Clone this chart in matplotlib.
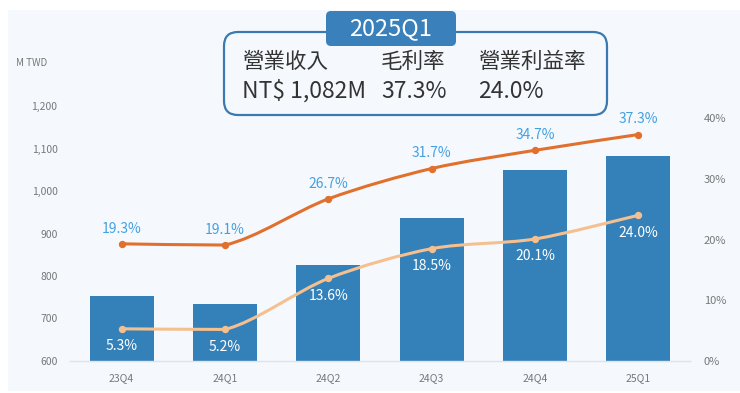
import matplotlib
matplotlib.use("Agg")
import matplotlib.pyplot as plt
from matplotlib.patches import FancyBboxPatch, Rectangle, PathPatch
from matplotlib.path import Path
from matplotlib.transforms import IdentityTransform
import numpy as np

plt.rcParams['font.family'] = ['Noto Sans CJK TC', 'DejaVu Sans']

# ---- data ----
quarters = ["23Q4", "24Q1", "24Q2", "24Q3", "24Q4", "25Q1"]
revenue = [752, 735, 827, 937, 1050, 1082]          # M TWD
gross_margin = [19.3, 19.1, 26.7, 31.7, 34.7, 37.3]  # %
op_margin = [5.3, 5.2, 13.6, 18.5, 20.1, 24.0]       # %
left_ticks = [600, 700, 800, 900, 1000, 1100, 1200]
right_ticks = [0, 10, 20, 30, 40]
headline_title = "2025Q1"
headline_labels = ["營業收入", "毛利率", "營業利益率"]
headline_values = ["NT$ 1,082M", "37.3%", "24.0%"]

W, H, DPI = 740, 393, 100
fig = plt.figure(figsize=(W / DPI, H / DPI), dpi=DPI)
fig.patch.set_facecolor("white")

BG = "#f5f9fd"
BAR = "#3481ba"
GM = "#e0702c"
OM = "#f5c08f"
LBL = "#45a0e0"
TICK = "#777777"

def px(x, y_top):
    return x, H - y_top

ident = IdentityTransform()
# background panel
fig.patches.append(Rectangle(px(8, 391), 740 - 8, 391 - 10, transform=ident,
                             facecolor=BG, edgecolor="none", zorder=-1))

ax = fig.add_axes([70 / W, 1 - 361 / H, 620 / W, 255 / H])
ax.set_zorder(1)
ax.set_facecolor("none")
x = np.arange(len(quarters))
ax.bar(x, revenue, width=0.62, color=BAR, zorder=2)
ax.set_xlim(-0.5, len(quarters) - 0.5)
ax.set_ylim(600, 1200)
ax.set_yticks(left_ticks)
ax.set_yticklabels([f"{v:,}" for v in left_ticks])
ax.set_xticks(x)
ax.set_xticklabels(quarters)
for s in ["top", "right", "left"]:
    ax.spines[s].set_visible(False)
ax.spines["bottom"].set_color("#dde3ea")
ax.spines["bottom"].set_linewidth(1.0)
ax.tick_params(axis="both", length=0, labelsize=7.5, colors=TICK)
ax.tick_params(axis="y", pad=9)
ax.tick_params(axis="x", pad=9)

ax2 = ax.twinx()
ax2.set_zorder(2)
ax2.set_facecolor("none")
ax2.set_ylim(0, 42)
ax2.set_yticks(right_ticks)
ax2.set_yticklabels([f"{v}%" for v in right_ticks])
for s in ["top", "right", "left", "bottom"]:
    ax2.spines[s].set_visible(False)
ax2.tick_params(axis="y", length=0, labelsize=8, colors=TICK, pad=10)

def smooth_path(xs, ys, s=0.3):
    xs = np.asarray(xs, float); ys = np.asarray(ys, float)
    n = len(xs)
    verts = [(xs[0], ys[0])]
    codes = [Path.MOVETO]
    for i in range(n - 1):
        p0 = np.array([xs[i], ys[i]])
        p1 = np.array([xs[i + 1], ys[i + 1]])
        prev = np.array([xs[i - 1], ys[i - 1]]) if i > 0 else p0
        nxt = np.array([xs[i + 2], ys[i + 2]]) if i + 2 < n else p1
        c1 = p0 + (p1 - prev) * s * 0.5
        c2 = p1 - (nxt - p0) * s * 0.5
        lo, hi = min(p0[1], p1[1]), max(p0[1], p1[1])
        c1[1] = np.clip(c1[1], lo, hi)
        c2[1] = np.clip(c2[1], lo, hi)
        verts += [tuple(c1), tuple(c2), tuple(p1)]
        codes += [Path.CURVE4] * 3
    return Path(verts, codes)

for vals, col in [(gross_margin, GM), (op_margin, OM)]:
    ax2.add_patch(PathPatch(smooth_path(x, vals), facecolor="none", edgecolor=col,
                            linewidth=2.2, zorder=3, capstyle="round"))
    ax2.scatter(x, vals, s=28, color=col, zorder=4, linewidths=0)

for xi, v in zip(x, gross_margin):
    ax2.annotate(f"{v}%", (xi, v), xytext=(0, 11), textcoords="offset points",
                 ha="center", va="center", fontsize=10, color=LBL, zorder=5)
for xi, v in zip(x, op_margin):
    ax2.annotate(f"{v}%", (xi, v), xytext=(0, -12.5), textcoords="offset points",
                 ha="center", va="center", fontsize=10, color="white", zorder=5)

fig.text(16 / W, 1 - 63 / H, "M TWD", fontsize=7, color=TICK, ha="left", va="center")

# headline box
fig.patches.append(FancyBboxPatch(px(224, 115), 607 - 224, 115 - 32, transform=ident,
                                  boxstyle="round,pad=0,rounding_size=14",
                                  facecolor=BG, edgecolor="#3a7ab0", linewidth=1.6, zorder=5))
fig.patches.append(FancyBboxPatch(px(326, 46), 456 - 326, 46 - 11, transform=ident,
                                  boxstyle="round,pad=0,rounding_size=5",
                                  facecolor="#3a80bb", edgecolor="none", zorder=6))
fig.text(391 / W, 1 - 28.5 / H, headline_title, fontsize=17, color="white",
         ha="center", va="center", zorder=7)
cols = [242, 381, 478]
for cx, lab, val in zip(cols, headline_labels, headline_values):
    fig.text(cx / W, 1 - 62 / H, lab, fontsize=15.5, color="#333333",
             ha="left", va="center", zorder=7)
    fig.text(cx / W, 1 - 91 / H, val, fontsize=16.5, color="#333333",
             ha="left", va="center", zorder=7)

fig.savefig("out.png", dpi=DPI, facecolor="white")
